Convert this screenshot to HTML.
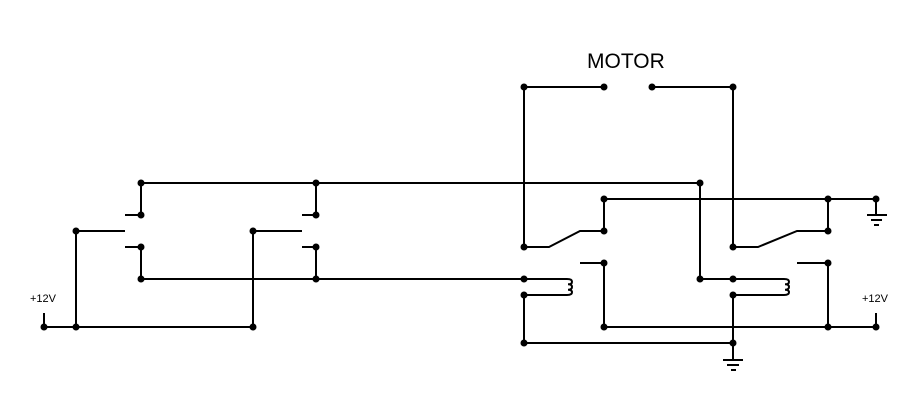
<!DOCTYPE html>
<html><head><meta charset="utf-8"><style>
html,body{margin:0;padding:0;background:#fff;}
svg{display:block;}
text{font-family:"Liberation Sans",sans-serif;}
</style></head><body>
<svg width="910" height="408" viewBox="0 0 910 408" xmlns="http://www.w3.org/2000/svg">
<g stroke="#000" stroke-width="2" fill="none">
<!-- left -->
<polyline points="141,215 141,183 700,183 700,279 733,279"/>
<line x1="125" y1="215" x2="141" y2="215"/>
<line x1="125" y1="247" x2="141" y2="247"/>
<polyline points="141,247 141,279 567,279"/>
<polyline points="76,231 125,231"/>
<line x1="76" y1="231" x2="76" y2="327"/>
<line x1="316" y1="183" x2="316" y2="215"/>
<line x1="302" y1="215" x2="316" y2="215"/>
<line x1="302" y1="247" x2="316" y2="247"/>
<line x1="316" y1="247" x2="316" y2="279"/>
<line x1="253" y1="231" x2="302" y2="231"/>
<line x1="253" y1="231" x2="253" y2="327"/>
<line x1="44" y1="327" x2="253" y2="327"/>
<line x1="44" y1="313" x2="44" y2="327"/>
<!-- motor -->
<polyline points="524,247 524,87 604,87"/>
<polyline points="652,87 733,87 733,247"/>
<!-- relay1 -->
<polyline points="524,247 549,247 580,231 604,231 604,199 876,199 876,214"/>
<line x1="867" y1="215" x2="887" y2="215"/>
<line x1="871" y1="220" x2="882" y2="220"/>
<line x1="874" y1="225" x2="879" y2="225"/>
<polyline points="580,263 604,263 604,327 876,327 876,313"/>
<polyline points="524,295 567,295"/>
<path d="M567,279 q5,0 5,2.7 q0,2.6 -4,2.6 q4,0 4,2.7 q0,2.7 -4,2.7 q4,0 4,2.6 q0,2.7 -5,2.7"/>
<polyline points="524,295 524,343 733,343 733,360"/>
<line x1="723" y1="360" x2="743" y2="360"/>
<line x1="727" y1="365" x2="739" y2="365"/>
<line x1="731" y1="370" x2="736" y2="370"/>
<!-- relay2 -->
<polyline points="733,247 758,247 797,231 828,231 828,199"/>
<polyline points="797,263 828,263 828,327"/>
<line x1="733" y1="295" x2="784" y2="295"/>
<line x1="733" y1="279" x2="784" y2="279"/>
<path d="M784,279 q5,0 5,2.7 q0,2.6 -4,2.6 q4,0 4,2.7 q0,2.7 -4,2.7 q4,0 4,2.6 q0,2.7 -5,2.7"/>
<line x1="733" y1="295" x2="733" y2="343"/>
</g>
<g fill="#000">
<circle cx="141" cy="183" r="3.5"/><circle cx="316" cy="183" r="3.5"/><circle cx="700" cy="183" r="3.5"/>
<circle cx="141" cy="215" r="3.5"/><circle cx="316" cy="215" r="3.5"/>
<circle cx="76" cy="231" r="3.5"/><circle cx="253" cy="231" r="3.5"/>
<circle cx="141" cy="247" r="3.5"/><circle cx="316" cy="247" r="3.5"/>
<circle cx="141" cy="279" r="3.5"/><circle cx="316" cy="279" r="3.5"/>
<circle cx="44" cy="327" r="3.5"/><circle cx="76" cy="327" r="3.5"/><circle cx="253" cy="327" r="3.5"/>
<circle cx="524" cy="87" r="3.5"/><circle cx="604" cy="87" r="3.5"/><circle cx="652" cy="87" r="3.5"/><circle cx="733" cy="87" r="3.5"/>
<circle cx="604" cy="199" r="3.5"/><circle cx="828" cy="199" r="3.5"/><circle cx="876" cy="199" r="3.5"/>
<circle cx="604" cy="231" r="3.5"/><circle cx="828" cy="231" r="3.5"/>
<circle cx="524" cy="247" r="3.5"/><circle cx="733" cy="247" r="3.5"/>
<circle cx="604" cy="263" r="3.5"/><circle cx="828" cy="263" r="3.5"/>
<circle cx="524" cy="279" r="3.5"/><circle cx="700" cy="279" r="3.5"/><circle cx="733" cy="279" r="3.5"/>
<circle cx="524" cy="295" r="3.5"/><circle cx="733" cy="295" r="3.5"/>
<circle cx="604" cy="327" r="3.5"/><circle cx="828" cy="327" r="3.5"/><circle cx="876" cy="327" r="3.5"/>
<circle cx="524" cy="343" r="3.5"/><circle cx="733" cy="343" r="3.5"/>
</g>
<text x="587" y="68" font-size="21">MOTOR</text>
<text x="30" y="302" font-size="11">+12V</text>
<text x="862" y="302" font-size="11">+12V</text>
</svg>
</body></html>
